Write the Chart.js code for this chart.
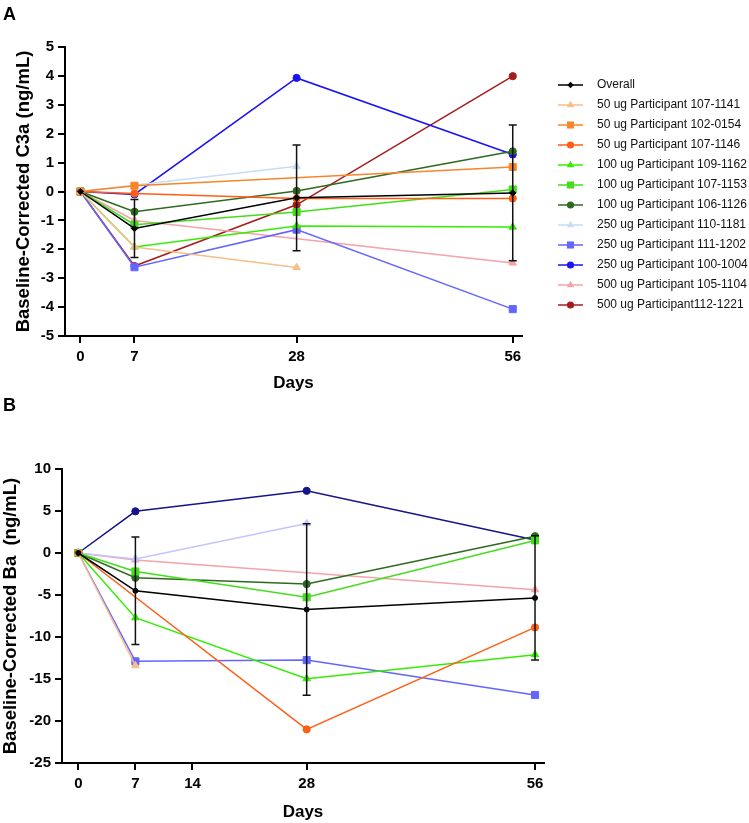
<!DOCTYPE html>
<html>
<head>
<meta charset="utf-8">
<script src="https://cdn.jsdelivr.net/npm/chart.js@4.4.1/dist/chart.umd.min.js"></script>
<style>
  body { margin: 0; background: #fff; font-family: Arial, "Liberation Sans", sans-serif; }
  #wrap { position: relative; width: 749px; height: 823px; overflow: hidden; }
  .panel-label { position: absolute; left: 3px; font-weight: bold; font-size: 18px; line-height: 18px; }
  #chartA { position: absolute; left: 0; top: 0; }
  #chartB { position: absolute; left: 0; top: 400px; }
</style>
</head>
<body>
<div id="wrap">
  <canvas id="chartA" width="749" height="400"></canvas>
  <canvas id="chartB" width="749" height="423"></canvas>
  <div class="panel-label" style="top:5px">A</div>
  <div class="panel-label" style="top:396px">B</div>
</div>
<script>
// sampling days and axis ticks
const days = [0, 7, 28, 56];
const ticksA = [0, 7, 28, 56];
const ticksB = [0, 7, 14, 28, 56];

const seriesLabels = [
  'Overall',
  '50 ug Participant 107-1141',
  '50 ug Participant 102-0154',
  '50 ug Participant 107-1146',
  '100 ug Participant 109-1162',
  '100 ug Participant 107-1153',
  '100 ug Participant 106-1126',
  '250 ug Participant 110-1181',
  '250 ug Participant 111-1202',
  '250 ug Participant 100-1004',
  '500 ug Participant 105-1104',
  '500 ug Participant112-1221'
];

// Panel A - C3a (ng/mL)
const c3aOverall    = [0, -1.28, -0.22, -0.05];
const c3aOverallErr = [0, 1.0, 1.83, 2.35];
const c3a_107_1141  = [0, -1.92, -2.63, null];
const c3a_102_0154  = [0, 0.2, null, 0.85];
const c3a_107_1146  = [0, -0.07, -0.24, -0.24];
const c3a_109_1162  = [0, -1.92, -1.19, -1.23];
const c3a_107_1153  = [0, -1.15, -0.71, 0.07];
const c3a_106_1126  = [0, -0.7, 0.02, 1.39];
const c3a_110_1181  = [0, null, 0.87, null];
const c3a_111_1202  = [0, -2.62, -1.32, -4.07];
const c3a_100_1004  = [0, -0.1, 3.93, 1.28];
const c3a_105_1104  = [0, -1.0, null, -2.47];
const c3a_112_1221  = [0, -2.58, -0.46, 3.99];

// Panel B - Ba (ng/mL)
const baOverall    = [0, -4.5, -6.73, -5.35];
const baOverallErr = [0, 6.4, 10.2, 7.4];
const ba_107_1141  = [0, -13.4, null, null];
const ba_102_0154  = [null, null, null, null];
const ba_107_1146  = [0, null, -21.0, -8.86];
const ba_109_1162  = [0, -7.7, -14.96, -12.1];
const ba_107_1153  = [0, -2.2, -5.28, 1.5];
const ba_106_1126  = [0, -2.95, -3.7, 2.0];
const ba_110_1181  = [0, -0.7, 3.5, null];
const ba_111_1202  = [0, -12.9, -12.75, -16.9];
const ba_100_1004  = [0, 4.96, 7.4, 1.54];
const ba_105_1104  = [0, -0.83, null, -4.37];
const ba_112_1221  = [null, null, null, null];

const colorsA = ['#000000', '#F5BE8A', '#F7862A', '#FF5E14', '#33EE00', '#44DD1A', '#2D6A1F',
                 '#C6DDF6', '#6464FF', '#1A14F5', '#F4A3A8', '#A61C1C'];
const colorsB = ['#000000', '#F5BE8A', '#F7862A', '#FF5E14', '#33EE00', '#44DD1A', '#2D6A1F',
                 '#C4C4FF', '#6464FF', '#15158A', '#F4A3A8', '#A61C1C'];
const shapes = ['rectRot', 'triangle', 'rect', 'circle', 'triangle', 'rect', 'circle',
                'triangle', 'rect', 'circle', 'triangle', 'circle'];

const FONT = 'Arial, "Liberation Sans", sans-serif';

function radiusFor(shape) {
  if (shape === 'rect') return 5;
  if (shape === 'triangle') return 4.3;
  if (shape === 'rectRot') return 3.2;
  return 3.6;
}

function buildSets(valueLists, colors, overallShape, overallRadius) {
  return valueLists.map((vals, i) => {
    const shape = i === 0 ? overallShape : shapes[i];
    const r = i === 0 ? overallRadius : radiusFor(shape);
    return {
      label: seriesLabels[i],
      data: days.map((d, j) => ({ x: d, y: vals[j] })),
      borderColor: colors[i],
      backgroundColor: colors[i],
      pointBackgroundColor: colors[i],
      pointBorderColor: colors[i],
      borderWidth: 1.5,
      pointStyle: shape,
      pointRadius: r,
      pointHoverRadius: r,
      pointBorderWidth: 1,
      spanGaps: true,
      tension: 0
    };
  });
}

// error bars for the "Overall" series
const errorBars = {
  id: 'errorBars',
  afterDatasetsDraw(chart, args, opts) {
    const ctx = chart.ctx;
    const xs = chart.scales.x, ys = chart.scales.y;
    const mean = opts.mean, err = opts.err;
    ctx.save();
    ctx.strokeStyle = '#111';
    ctx.lineWidth = 1.5;
    days.forEach((d, i) => {
      if (!err[i]) return;
      const x = xs.getPixelForValue(d);
      const top = ys.getPixelForValue(mean[i] + err[i]);
      const bot = ys.getPixelForValue(mean[i] - err[i]);
      ctx.beginPath();
      ctx.moveTo(x, top); ctx.lineTo(x, bot);
      ctx.moveTo(x - 4, top); ctx.lineTo(x + 4, top);
      ctx.moveTo(x - 4, bot); ctx.lineTo(x + 4, bot);
      ctx.stroke();
    });
    ctx.restore();
  }
};

function drawMarker(ctx, shape, r, x, y) {
  ctx.beginPath();
  if (shape === 'circle') {
    ctx.arc(x, y, r, 0, Math.PI * 2);
  } else if (shape === 'rect') {
    const s = r * Math.SQRT1_2;
    ctx.rect(x - s, y - s, 2 * s, 2 * s);
  } else if (shape === 'rectRot') {
    ctx.moveTo(x, y - r); ctx.lineTo(x + r, y); ctx.lineTo(x, y + r); ctx.lineTo(x - r, y);
    ctx.closePath();
  } else {
    ctx.moveTo(x, y - r);
    ctx.lineTo(x + r * 0.866, y + r * 0.5);
    ctx.lineTo(x - r * 0.866, y + r * 0.5);
    ctx.closePath();
  }
  ctx.fill();
}

// legend to the right of panel A
const sideLegend = {
  id: 'sideLegend',
  afterDraw(chart) {
    const ctx = chart.ctx;
    ctx.save();
    chart.data.datasets.forEach((ds, i) => {
      const y = 85 + i * 20;
      ctx.strokeStyle = ds.borderColor;
      ctx.fillStyle = ds.borderColor;
      ctx.lineWidth = 1.5;
      ctx.beginPath();
      ctx.moveTo(558, y); ctx.lineTo(583, y);
      ctx.stroke();
      drawMarker(ctx, ds.pointStyle, ds.pointRadius, 570.5, y);
      ctx.fillStyle = '#111';
      ctx.font = '12px ' + FONT;
      ctx.textBaseline = 'middle';
      ctx.fillText(ds.label, 597, y);
    });
    ctx.restore();
  }
};

function axisOpts(tickVals, min, max, yMin, yMax, yStep, yTitle, yWidth, xHeight, yTitlePad, xTitlePad) {
  const axisLine = { display: true, color: '#000', width: 2 };
  const grid = { display: true, drawOnChartArea: false, drawTicks: true, tickLength: 7, color: '#000', lineWidth: 2 };
  return {
    x: {
      type: 'linear', min: min, max: max,
      afterBuildTicks: s => { s.ticks = tickVals.map(v => ({ value: v })); },
      afterFit: s => { s.height = xHeight; },
      border: axisLine, grid: grid,
      ticks: { color: '#000', padding: 5, font: { family: FONT, size: 15, weight: 'bold' }, callback: v => v },
      title: { display: true, text: 'Days', color: '#000', padding: { top: 0, bottom: xTitlePad },
               font: { family: FONT, size: 17, weight: 'bold', lineHeight: 1 } }
    },
    y: {
      min: yMin, max: yMax,
      afterFit: s => { s.width = yWidth; },
      border: axisLine, grid: grid,
      ticks: { stepSize: yStep, color: '#000', padding: 4, font: { family: FONT, size: 15, weight: 'bold' } },
      title: { display: true, text: yTitle, color: '#000', padding: { top: yTitlePad, bottom: 0 },
               font: { family: FONT, size: 18.5, weight: 'bold', lineHeight: 1 } }
    }
  };
}

const chartA = new Chart(document.getElementById('chartA'), {
  type: 'line',
  data: {
    datasets: buildSets([c3aOverall, c3a_107_1141, c3a_102_0154, c3a_107_1146, c3a_109_1162, c3a_107_1153,
                         c3a_106_1126, c3a_110_1181, c3a_111_1202, c3a_100_1004, c3a_105_1104, c3a_112_1221],
                        colorsA, 'rectRot', 3.2)
  },
  options: {
    responsive: false,
    animation: false,
    layout: { padding: { left: 0, top: 47, right: 227, bottom: 4 } },
    scales: axisOpts(ticksA, -2, 57.2, -5, 5, 1, 'Baseline-Corrected C3a (ng/mL)', 65, 60, 15, 4),
    plugins: {
      legend: { display: false },
      tooltip: { enabled: false },
      errorBars: { mean: c3aOverall, err: c3aOverallErr }
    }
  },
  plugins: [errorBars, sideLegend]
});

const chartB = new Chart(document.getElementById('chartB'), {
  type: 'line',
  data: {
    datasets: buildSets([baOverall, ba_107_1141, ba_102_0154, ba_107_1146, ba_109_1162, ba_107_1153,
                         ba_106_1126, ba_110_1181, ba_111_1202, ba_100_1004, ba_105_1104, ba_112_1221],
                        colorsB, 'circle', 2.5)
  },
  options: {
    responsive: false,
    animation: false,
    layout: { padding: { left: 0, top: 69, right: 205, bottom: 2 } },
    scales: axisOpts(ticksB, -2, 57.1, -25, 10, 5, 'Baseline-Corrected Ba  (ng/mL)', 62, 58, 2, 0),
    plugins: {
      legend: { display: false },
      tooltip: { enabled: false },
      errorBars: { mean: baOverall, err: baOverallErr }
    }
  },
  plugins: [errorBars]
});
</script>
</body>
</html>
